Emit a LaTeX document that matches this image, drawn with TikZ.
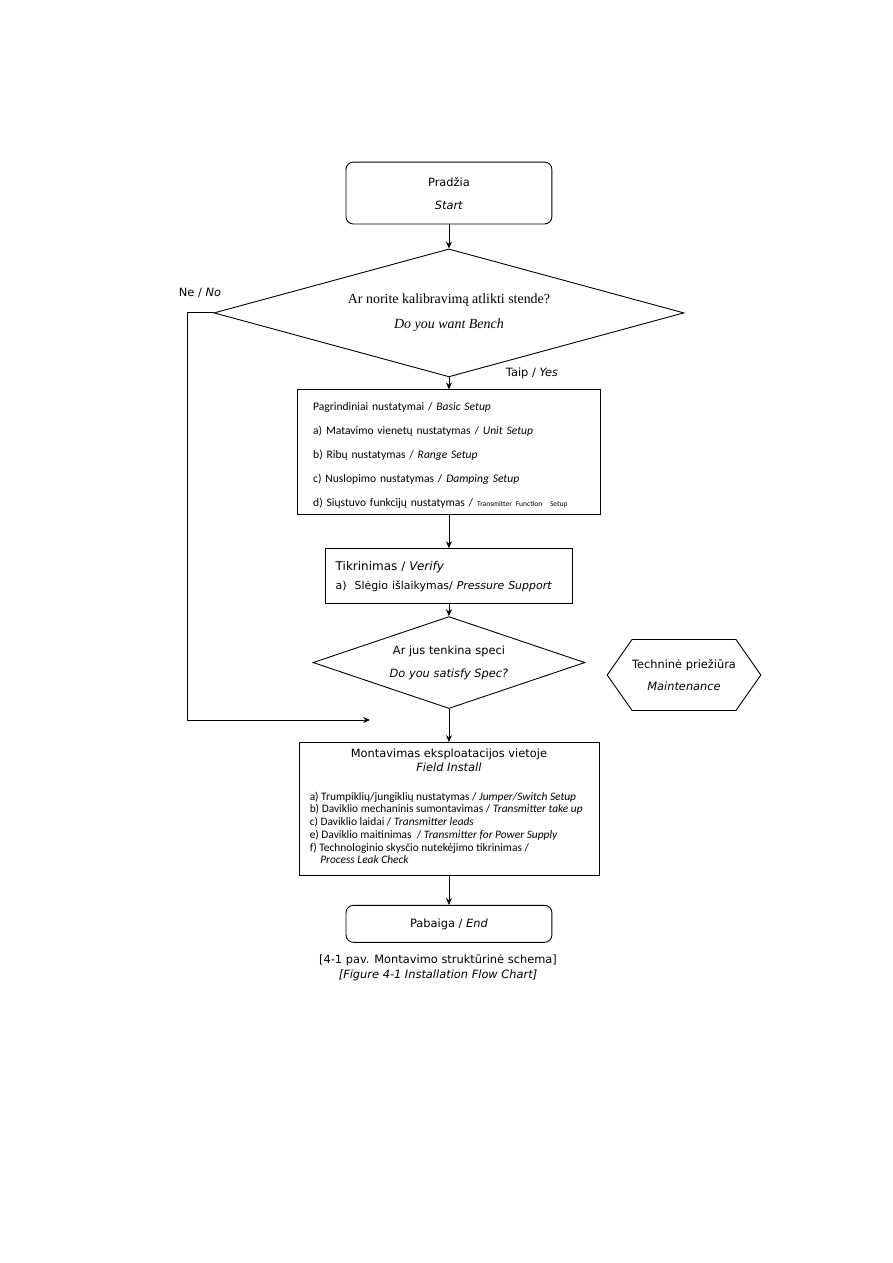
\documentclass[tikz,border=0pt]{standalone}
\usepackage{fontspec}
\setmainfont{DejaVu Sans}
\newfontfamily\calfont{Carlito}
\newfontfamily\serfont{Liberation Serif}
\usetikzlibrary{arrows.meta,positioning,shapes.geometric,shapes.symbols}

\begin{document}
\begin{tikzpicture}[
    node distance=0.3cm,
    box/.style={draw, line width=0.6pt, inner sep=0pt, font=\fontsize{7.6}{15.3}\selectfont, align=center},
    term/.style={box, rounded corners=5pt, minimum width=137.3pt},
    decision/.style={box, diamond},
    note/.style={font=\fontsize{7.6}{9}\selectfont, inner sep=0pt},
    arrow/.style={-{Stealth[length=1.6mm, width=1.4mm]}, line width=0.6pt},
  ]
  \useasboundingbox (0,0) rectangle (595.3pt,-842pt);
  \node[term, minimum height=41.3pt] (start) at (299.3pt,-128.7pt) {Pradžia\\\textit{Start}};
  \node[decision, below=16pt of start, aspect=3.67, minimum width=313.3pt, minimum height=85.3pt,
        font=\serfont\fontsize{9.3}{16.7}\selectfont] (bench)
        {Ar norite kalibravimą atlikti stende?\\\textit{Do you want Bench}};
  \node[box, below=8pt of bench, minimum width=202pt, minimum height=83.3pt, text width=181pt,
        align=left, font=\calfont\fontsize{7.7}{16}\selectfont] (basic)
        {\rule{0pt}{9pt}Pagrindiniai nustatymai / \textit{Basic Setup}\\
         a) Matavimo vienetų nustatymas / \textit{Unit Setup}\\
         b) Ribų nustatymas / \textit{Range Setup}\\
         c) Nuslopimo nustatymas / \textit{Damping Setup}\\
         d) Siųstuvo funkcijų nustatymas / {\fontsize{5}{5}\selectfont Transmitter Function\ \ Setup}};
  \node[box, below=22pt of basic, minimum width=165.3pt, minimum height=36.7pt, text width=151pt,
        align=left, font=\fontsize{8}{12.7}\selectfont] (verify)
        {Tikrinimas / \textit{Verify}\\
         {\fontsize{7.3}{12.7}\selectfont a)\ \ Slėgio išlaikymas/ \textit{Pressure Support}}};
  \node[decision, below=8pt of verify, aspect=2.96, minimum width=181.3pt, minimum height=61.3pt] (spec)
        {Ar jus tenkina speci\\\textit{Do you satisfy Spec?}};
  \node[box, below=22pt of spec, minimum width=200pt, minimum height=88.7pt] (field) {};
  \node[note, align=center, below=4.5pt of field.north, font=\fontsize{7.6}{9.3}\selectfont] (fieldtitle)
        {Montavimas eksploatacijos vietoje\\\textit{Field Install}};
  \node[note, align=left, anchor=north west, font=\calfont\fontsize{7.6}{8.5}\selectfont] (fielditems)
        at ([xshift=7.3pt, yshift=-33pt]field.north west)
        {a) Trumpiklių/jungiklių nustatymas / \textit{Jumper/Switch Setup}\\
         b) Daviklio mechaninis sumontavimas / \textit{Transmitter take up}\\
         c) Daviklio laidai / \textit{Transmitter leads}\\
         e) Daviklio maitinimas\ \ / \textit{Transmitter for Power Supply}\\
         f) Technologinio skysčio nutekėjimo tikrinimas /\\
         \hspace*{7pt}\textit{Process Leak Check}};
  \node[term, below=19.3pt of field, minimum height=24.7pt] (end) {Pabaiga / \textit{End}};
  \node[note, align=center, below=8pt of end, xshift=-7.3pt, font=\fontsize{7.6}{10}\selectfont] (caption)
        {[4-1 pav. Montavimo struktūrinė schema]\\\textit{[Figure 4-1 Installation Flow Chart]}};

  \node[box, signal, signal to=west and east, signal pointer angle=110,
        minimum width=102pt, minimum height=47.3pt] (maint) at (456pt,-450pt)
        {Techninė priežiūra\\\textit{Maintenance}};

  \node[note] (no) at (133.3pt,-195.3pt) {Ne / \textit{No}};
  \node[note] (yes) at (354.7pt,-248.7pt) {Taip / \textit{Yes}};

  \foreach \a/\b in {start/bench, bench/basic, basic/verify, verify/spec, spec/field, field/end}
    \draw[arrow] (\a) -- (\b);
  \coordinate (noend) at (246.7pt,-480pt);
  \draw[arrow] (bench.west) -- ++(-17.3pt,0) |- (noend);
\end{tikzpicture}
\end{document}
